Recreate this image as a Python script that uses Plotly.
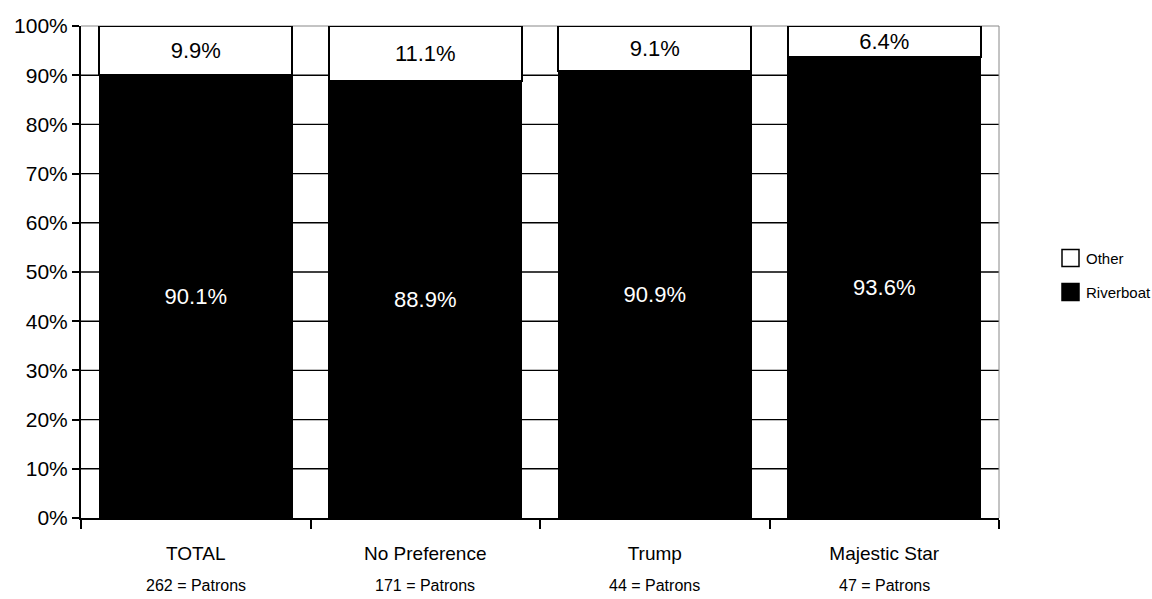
import plotly.graph_objects as go

categories = ["TOTAL", "No Preference", "Trump", "Majestic Star"]
patrons = [262, 171, 44, 47]
riverboat = [90.1, 88.9, 90.9, 93.6]
other = [9.9, 11.1, 9.1, 6.4]
y_ticks = [0, 10, 20, 30, 40, 50, 60, 70, 80, 90, 100]
legend_names = ["Other", "Riverboat"]
legend_fills = ["white", "black"]

FONT = "Liberation Sans, Arial, sans-serif"

fig = go.Figure()
fig.add_trace(go.Bar(
    x=categories, y=riverboat, name="Riverboat",
    marker=dict(color="black", line=dict(color="black", width=1)),
    text=[f"{v:.1f}%" for v in riverboat], textposition="inside",
    insidetextanchor="middle", textfont=dict(color="white", size=22, family=FONT),
    constraintext="none", showlegend=False,
))
fig.add_trace(go.Bar(
    x=categories, y=other, name="Other",
    marker=dict(color="white", line=dict(color="black", width=2)),
    text=[f"{v:.1f}%" for v in other], textposition="inside",
    insidetextanchor="middle", textfont=dict(color="black", size=22, family=FONT),
    constraintext="none", showlegend=False,
))

# horizontal gridlines (black), top/right border gray
for t in y_ticks[1:-1]:
    fig.add_shape(type="line", xref="paper", yref="y", x0=0, x1=1, y0=t, y1=t,
                  line=dict(color="black", width=1.4), layer="below")
fig.add_shape(type="line", xref="paper", yref="paper", x0=0, x1=1, y0=1, y1=1,
              line=dict(color="#888888", width=1), layer="below")
fig.add_shape(type="line", xref="paper", yref="paper", x0=1, x1=1, y0=0, y1=1,
              line=dict(color="#888888", width=1), layer="below")

for c, p in zip(categories, patrons):
    fig.add_annotation(x=c, y=-0.137, xref="x", yref="paper", text=f"{p} = Patrons",
                       showarrow=False, font=dict(size=16, color="black", family=FONT),
                       yanchor="middle")

# legend (custom, matching reference square size)
PW, PH, X0, YB = 918.0, 492.0, 81.0, 518.0
leg_y = [258, 292]
for name, fill, py in zip(legend_names, legend_fills, leg_y):
    fig.add_shape(type="rect", xref="paper", yref="paper",
                  x0=(1062 - X0) / PW, x1=(1079 - X0) / PW,
                  y0=(YB - (py + 8.5)) / PH, y1=(YB - (py - 8.5)) / PH,
                  fillcolor=fill, line=dict(color="black", width=1.5))
    fig.add_annotation(x=(1084 - X0) / PW, y=(YB - py) / PH, xref="paper", yref="paper",
                       text=name, showarrow=False, xanchor="left", yanchor="middle",
                       font=dict(size=15, color="black", family=FONT))

fig.update_layout(
    width=1152, height=599,
    margin=dict(l=81, r=153, t=26, b=81),
    paper_bgcolor="white", plot_bgcolor="white",
    barmode="stack", bargap=0.16,
    font=dict(family=FONT, color="black"),
    showlegend=False,
)
fig.update_yaxes(range=[0, 100], tickvals=y_ticks, ticktext=[f"{v}%" for v in y_ticks],
                 showgrid=False,
                 showline=True, linecolor="black", linewidth=2,
                 ticks="outside", ticklen=7, tickwidth=2, tickcolor="black",
                 tickfont=dict(size=21, family=FONT, color="black"), zeroline=False)
fig.update_xaxes(showline=True, linecolor="black", linewidth=2,
                 ticks="outside", tickson="boundaries", ticklen=9, tickwidth=2, tickcolor="black",
                 tickfont=dict(size=19, family=FONT, color="black"),
                 ticklabelstandoff=17, showgrid=False)

fig.write_html("out.html")
